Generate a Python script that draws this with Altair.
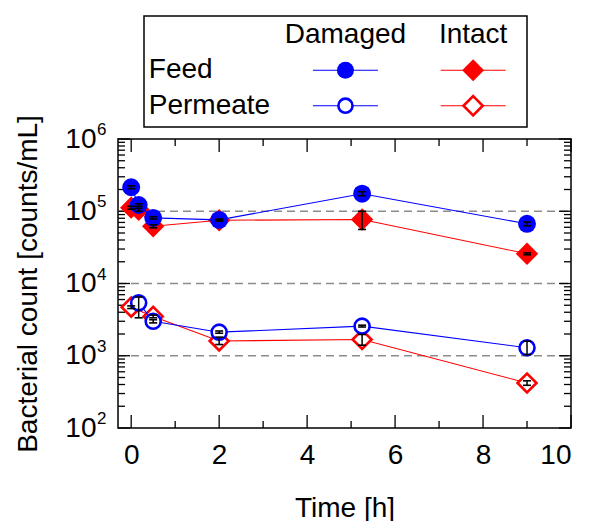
import altair as alt
import pandas as pd

FONT = "Liberation Sans"
BLUE = "#0000ff"
RED = "#ff0000"

# ---------------- data ----------------
t_damaged_feed = [0, 0.17, 0.5, 2, 5.25, 9]
v_damaged_feed = [2.15e5, 1.22e5, 8.1e4, 7.6e4, 1.75e5, 6.7e4]
lo_damaged_feed = [2.05e5, 1.17e5, 7.8e4, 7.4e4, 1.64e5, 6.3e4]
hi_damaged_feed = [2.25e5, 1.27e5, 8.4e4, 7.8e4, 1.87e5, 7.1e4]

t_intact_feed = [0, 0.17, 0.5, 2, 5.25, 9]
v_intact_feed = [1.12e5, 1.05e5, 6.2e4, 7.5e4, 7.7e4, 2.58e4]
lo_intact_feed = [1.07e5, 1.0e5, 5.9e4, 7.3e4, 5.6e4, 2.5e4]
hi_intact_feed = [1.17e5, 1.1e5, 6.5e4, 7.7e4, 1.0e5, 2.65e4]

t_damaged_perm = [0.17, 0.5, 2, 5.25, 9]
v_damaged_perm = [5.4e3, 3.0e3, 2.12e3, 2.57e3, 1.29e3]
lo_damaged_perm = [3.35e3, 2.85e3, 2.05e3, 2.5e3, 1.04e3]
hi_damaged_perm = [6.5e3, 3.15e3, 2.2e3, 2.65e3, 1.59e3]

t_intact_perm = [0, 0.5, 2, 5.25, 9]
v_intact_perm = [4.7e3, 3.5e3, 1.6e3, 1.68e3, 4.2e2]
lo_intact_perm = [4.5e3, 3.35e3, 1.43e3, 1.40e3, 3.9e2]
hi_intact_perm = [4.9e3, 3.65e3, 1.81e3, 1.97e3, 4.5e2]

x_major = [0, 2, 4, 6, 8, 10]
x_minor = [1, 3, 5, 7, 9]
y_major = [1e2, 1e3, 1e4, 1e5, 1e6]
y_exponents = ["2", "3", "4", "5", "6"]
y_minor = [m * 10 ** k for k in range(2, 6) for m in range(2, 10)]
grid_lines = [1e3, 1e4, 1e5]

legend_cols = ["label", "Damaged", "Intact"]
legend_rows = ["head", "Feed", "Permeate"]

# ---------------- tables ----------------
def series(name, t, v, lo, hi):
    return pd.DataFrame({"series": name, "t": t, "v": v, "lo": lo, "hi": hi})

data = pd.concat([
    series("DF", t_damaged_feed, v_damaged_feed, lo_damaged_feed, hi_damaged_feed),
    series("IF", t_intact_feed, v_intact_feed, lo_intact_feed, hi_intact_feed),
    series("DP", t_damaged_perm, v_damaged_perm, lo_damaged_perm, hi_damaged_perm),
    series("IP", t_intact_perm, v_intact_perm, lo_intact_perm, hi_intact_perm),
], ignore_index=True)

W, H = 453, 289

xscale = alt.Scale(domain=[-0.3, 10], nice=False, zero=False)
yscale = alt.Scale(type="log", domain=[1e2, 1e6], nice=False)
xaxis = alt.Axis(values=x_major, title="Time [h]", ticks=False, domain=False, grid=False,
                 labelFontSize=28, labelPadding=13, titleFontSize=28, titlePadding=25,
                 titleFontWeight="normal", labelColor="black", titleColor="black",
                 labelFont=FONT, titleFont=FONT)
yaxis = alt.Axis(values=y_major, labelExpr="'10'", title="Bacterial count [counts/mL]",
                 ticks=False, domain=False, grid=False, labelFontSize=28, labelPadding=22,
                 titleFontSize=28, titlePadding=22, titleFontWeight="normal",
                 labelColor="black", titleColor="black", labelFont=FONT, titleFont=FONT)

def X(f):
    return alt.X(f, type="quantitative", scale=xscale, axis=xaxis)

def Y(f):
    return alt.Y(f, type="quantitative", scale=yscale, axis=yaxis)

base = alt.Chart(data)

grid = alt.Chart(pd.DataFrame({"g": grid_lines})).mark_rule(
    color="#8c8c8c", strokeDash=[8, 5], strokeWidth=1.4
).encode(y=Y("g"), x=alt.value(0), x2=alt.value(W))

def xticks(vals, length, top):
    df = pd.DataFrame({"tv": vals})
    if top:
        enc = dict(y=alt.value(0), y2=alt.value(length))
    else:
        enc = dict(y=alt.value(H), y2=alt.value(H - length))
    return alt.Chart(df).mark_rule(color="black", strokeWidth=1.3).encode(x=X("tv"), **enc)

def yticks(vals, length, right):
    df = pd.DataFrame({"yv": vals})
    if right:
        enc = dict(x=alt.value(W), x2=alt.value(W - length))
    else:
        enc = dict(x=alt.value(0), x2=alt.value(length))
    return alt.Chart(df).mark_rule(color="black", strokeWidth=1.3).encode(y=Y("yv"), **enc)

tick_layers = [
    xticks(x_major, 13, False), xticks(x_minor, 7, False),
    xticks(x_major, 13, True), xticks(x_minor, 7, True),
    yticks(y_major, 12, False), yticks(y_minor, 7, False),
    yticks(y_major, 12, True), yticks(y_minor, 7, True),
]

exps = alt.Chart(pd.DataFrame({"yv": y_major, "e": y_exponents})).mark_text(
    align="left", baseline="middle", dy=-9, fontSize=17, font=FONT, color="black"
).encode(y=Y("yv"), x=alt.value(-21), text="e:N")

def line(sel, color):
    return base.transform_filter(alt.datum.series == sel).mark_line(
        color=color, strokeWidth=1.1
    ).encode(x=X("t"), y=Y("v"))

def pts(sel, color, shape, filled, size):
    if filled:
        mk = dict(shape=shape, size=size, filled=True, color=color, opacity=1)
    else:
        mk = dict(shape=shape, size=size, filled=True, fill="white", stroke=color,
                  strokeWidth=2.6, opacity=1)
    return base.transform_filter(alt.datum.series == sel).mark_point(**mk).encode(
        x=X("t"), y=Y("v"))

err_rule = base.mark_rule(color="black", strokeWidth=1.5).encode(
    x=X("t"), y=Y("lo"), y2="hi")
err_caps = base.transform_fold(["lo", "hi"], as_=["end", "ev"]).mark_tick(
    orient="horizontal", size=8, thickness=1.6, color="black", opacity=1
).encode(x=X("t"), y=Y("ev:Q"))

main = alt.layer(
    grid,
    *tick_layers,
    line("IF", RED), pts("IF", RED, "diamond", True, 500),
    line("IP", RED), pts("IP", RED, "diamond", False, 360),
    line("DF", BLUE), pts("DF", BLUE, "circle", True, 320),
    line("DP", BLUE), pts("DP", BLUE, "circle", False, 225),
    err_rule, err_caps,
    exps,
).properties(width=W, height=H, view=alt.ViewBackground(stroke="black", strokeWidth=1.5))

# ---------------- legend ----------------
LX = alt.X("col:N", scale=alt.Scale(type="point", domain=legend_cols, padding=0.5, align=0.578), axis=None)
LY = alt.Y("row:N", scale=alt.Scale(type="point", domain=legend_rows, padding=0.566, align=0.47), axis=None)

heads = pd.DataFrame({"col": ["Damaged", "Intact"], "row": ["head", "head"], "txt": ["Damaged", "Intact"]})
rowlab = pd.DataFrame({"col": ["label", "label"], "row": ["Feed", "Permeate"], "txt": ["Feed", "Permeate"]})
syms = pd.DataFrame({
    "col": ["Damaged", "Intact", "Damaged", "Intact"],
    "row": ["Feed", "Feed", "Permeate", "Permeate"],
    "color": [BLUE, RED, BLUE, RED],
    "shape": ["circle", "diamond", "circle", "diamond"],
    "open": [False, False, True, True],
    "sz": [290, 480, 200, 370],
})

leg_head = alt.Chart(heads).mark_text(fontSize=28, font=FONT, color="black", baseline="middle").encode(
    x=LX, y=LY, text="txt:N")
leg_rows = alt.Chart(rowlab).mark_text(fontSize=28, font=FONT, color="black", align="left",
                                       baseline="middle", dx=-69).encode(x=LX, y=LY, text="txt:N")
leg_lines = alt.Chart(syms).mark_tick(orient="horizontal", size=65, thickness=1.1, opacity=1).encode(
    x=LX, y=LY, color=alt.Color("color:N", scale=None))
leg_filled = alt.Chart(syms).transform_filter("!datum.open").mark_point(filled=True, opacity=1).encode(
    x=LX, y=LY, color=alt.Color("color:N", scale=None), shape=alt.Shape("shape:N", scale=None),
    size=alt.Size("sz:Q", scale=None))
leg_open = alt.Chart(syms).transform_filter("datum.open").mark_point(
    filled=True, fill="white", strokeWidth=2.6, opacity=1).encode(
    x=LX, y=LY, stroke=alt.Stroke("color:N", scale=None), shape=alt.Shape("shape:N", scale=None),
    size=alt.Size("sz:Q", scale=None))

legend = alt.layer(leg_lines, leg_filled, leg_open, leg_head, leg_rows).properties(
    width=383, height=111, view=alt.ViewBackground(stroke="black", strokeWidth=1.5))

spacer = alt.Chart(pd.DataFrame({"a": [0]})).mark_point(opacity=0, size=1).encode(
    x=alt.value(12), y=alt.value(55)).properties(
    width=24, height=111, view=alt.ViewBackground(stroke="transparent"))

top = alt.hconcat(spacer, legend, spacing=0)

chart = alt.vconcat(top, main, spacing=-15).properties(
    padding={"top": 7, "left": 6, "right": 0, "bottom": 0}
).configure(font=FONT)

chart.save("out.html", embed_options={"renderer": "svg", "actions": False})
